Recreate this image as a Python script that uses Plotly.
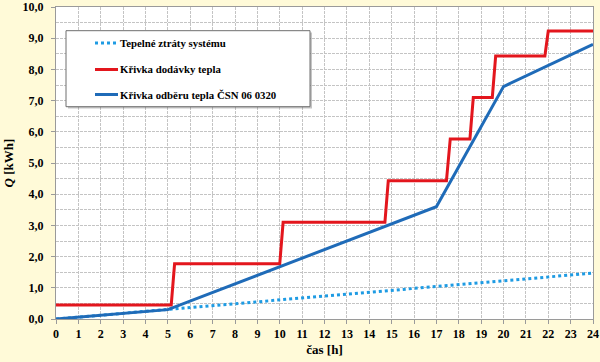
import plotly.graph_objects as go

# ---- data ----
loss_x = [0, 24]
loss_y = [0.0, 1.47]

supply_x = [0, 5.15, 5.3, 10.0, 10.15, 14.7, 14.85, 17.45, 17.62, 18.5, 18.65, 19.5, 19.65, 21.85, 22.0, 24]
supply_y = [0.45, 0.45, 1.77, 1.77, 3.10, 3.10, 4.43, 4.43, 5.77, 5.77, 7.10, 7.10, 8.43, 8.43, 9.23, 9.23]

demand_x = [0, 5, 17, 20, 24]
demand_y = [0.0, 0.30, 3.60, 7.45, 8.80]

x_ticks = list(range(0, 25))
y_ticks = [i for i in range(0, 11)]
y_ticklabels = [f"{v},0" for v in y_ticks]

names = ["Tepelné ztráty systému", "Křivka dodávky tepla", "Křivka odběru tepla ČSN 06 0320"]

# ---- styles ----
c_loss = "#1E9BE3"
c_supply = "#E3161D"
c_demand = "#1F6BB8"
bg = "#FFFAD8"
grid = "#C4C4C4"
font_fam = "'Times New Roman', 'Liberation Serif', 'DejaVu Serif', serif"

fig = go.Figure()
fig.add_trace(go.Scatter(x=loss_x, y=loss_y, mode="lines", name=names[0],
                         line=dict(color=c_loss, width=3, dash="dot"), showlegend=False))
fig.add_trace(go.Scatter(x=supply_x, y=supply_y, mode="lines", name=names[1],
                         line=dict(color=c_supply, width=3), showlegend=False))
fig.add_trace(go.Scatter(x=demand_x, y=demand_y, mode="lines", name=names[2],
                         line=dict(color=c_demand, width=3), showlegend=False))

L, R, T, B = 56, 7, 7, 43
W, H = 600, 362
pw, ph = W - L - R, H - T - B

def px(xp):
    return (xp - L) / pw

def py(yp):
    return (H - B - yp) / ph

# manual legend box
fig.add_shape(type="rect", xref="paper", yref="paper",
              x0=px(68), x1=px(312), y0=py(108.5), y1=py(32.5),
              line=dict(width=0), fillcolor="rgba(90,90,90,0.35)", layer="above")
fig.add_shape(type="rect", xref="paper", yref="paper",
              x0=px(66), x1=px(310), y0=py(106.7), y1=py(30.7),
              line=dict(color="#6E6E6E", width=1), fillcolor="white", layer="above")

rows_y = [43, 69.5, 94.5]
styles = [dict(color=c_loss, width=3, dash="dot"),
          dict(color=c_supply, width=3),
          dict(color=c_demand, width=3)]
for name, ry, st in zip(names, rows_y, styles):
    fig.add_shape(type="line", xref="paper", yref="paper",
                  x0=px(95), x1=px(118), y0=py(ry), y1=py(ry), line=st, layer="above")
    fig.add_annotation(xref="paper", yref="paper", x=px(117.5), y=py(ry),
                       xanchor="left", yanchor="middle", showarrow=False,
                       text=f"<b>{name}</b>",
                       font=dict(family=font_fam, size=10.8, color="black"))

fig.update_layout(
    width=W, height=H,
    margin=dict(l=L, r=R, t=T, b=B, autoexpand=False),
    paper_bgcolor=bg, plot_bgcolor="white",
    font=dict(family=font_fam, size=12, color="black"),
    xaxis=dict(range=[0, 24], tickvals=x_ticks, ticktext=[f"<b>{v}</b>" for v in x_ticks],
               showgrid=True, gridcolor=grid, griddash="3px,1px", gridwidth=1,
               showline=True, linecolor="#9A9A9A", linewidth=1, mirror=True,
               ticks="outside", ticklen=4, tickcolor="#9A9A9A",
               tickfont=dict(family=font_fam, size=12, color="black"),
               zeroline=False, automargin=False,
               title=dict(text="<b>čas [h]</b>", standoff=4,
                          font=dict(family=font_fam, size=13, color="black"))),
    yaxis=dict(range=[0, 10], tickvals=y_ticks, ticktext=[f"<b>{t}</b>" for t in y_ticklabels],
               showgrid=True, gridcolor=grid, griddash="3px,1px", gridwidth=1,
               minor=dict(dtick=0.5, showgrid=True, gridcolor=grid, griddash="3px,1px"),
               showline=True, linecolor="#9A9A9A", linewidth=1, mirror=True,
               ticks="outside", ticklen=4, tickcolor="#9A9A9A", ticklabelstandoff=5,
               tickfont=dict(family=font_fam, size=12, color="black"),
               zeroline=False, automargin=False,
               title=dict(text="<b><i>Q</i> [kWh]</b>", standoff=6,
                          font=dict(family=font_fam, size=13, color="black"))),
)

fig.write_html("out.html", post_script="document.body.style.margin='0';",
               config={"displayModeBar": False})
